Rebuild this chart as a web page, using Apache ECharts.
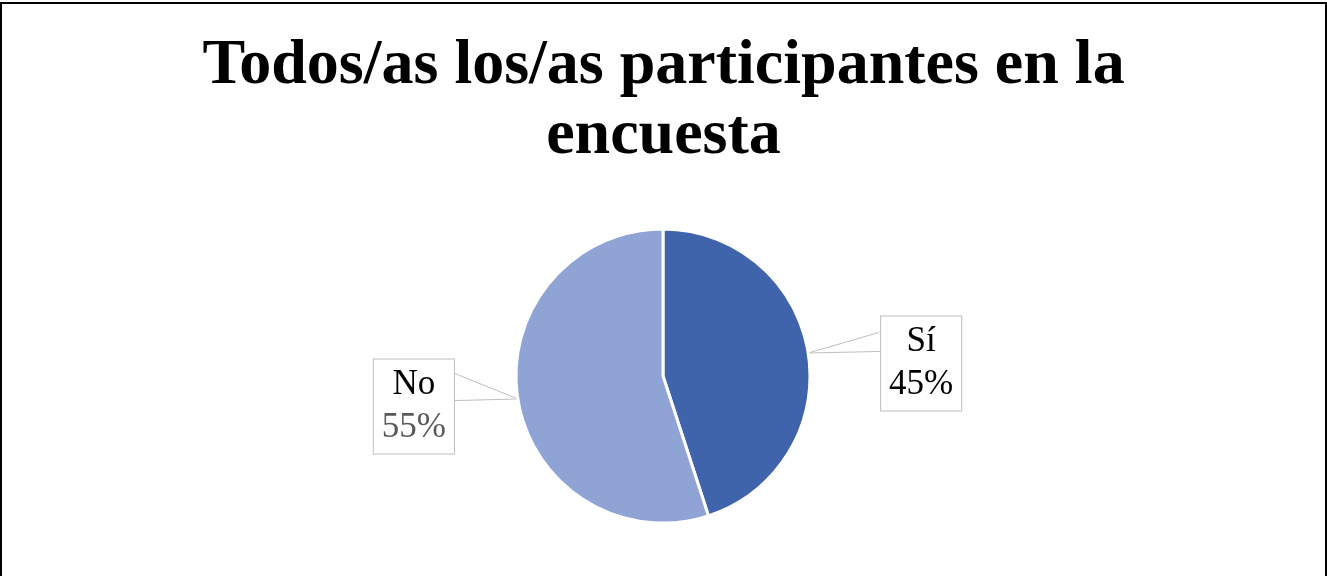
<!DOCTYPE html>
<html>
<head>
<meta charset="utf-8">
<script src="https://cdn.jsdelivr.net/npm/echarts@6/dist/echarts.min.js"></script>
<style>
html,body{margin:0;padding:0;background:#fff;}
#frame{position:absolute;left:0;top:2px;width:1327px;height:580px;border-left:2px solid #000;border-top:2px solid #000;border-right:2px solid #000;box-sizing:border-box;}
#chart{position:absolute;left:0;top:0;width:1327px;height:576px;}
</style>
</head>
<body>
<div id="chart"></div>
<div id="frame"></div>
<script>
const titleText = 'Todos/as los/as participantes en la\nencuesta';
const categories = ['Sí', 'No'];
const values = [45, 55];
const colors = ['#3F64AB', '#8FA4D4'];
const pctColors = ['#000000', '#595959'];
const labelShift = [[0, 12], [9, 6]];
const calloutShift = [[3, -19], [5, -27]];

const lineStyle = { color: '#bfbfbf', width: 1 };
const pieCenter = [663, 376];
const pieRadius = [0, 147];

const chart = echarts.init(document.getElementById('chart'));
chart.setOption({
  animation: false,
  backgroundColor: '#fff',
  title: {
    text: titleText,
    left: 'center',
    top: 26,
    textStyle: {
      fontFamily: 'Liberation Serif',
      fontWeight: 'bold',
      fontSize: 64,
      lineHeight: 70,
      color: '#000'
    }
  },
  series: [{
    // helper pie underneath: draws the upper edge of each callout wedge
    type: 'pie',
    silent: true,
    z: 1,
    center: pieCenter,
    radius: pieRadius,
    startAngle: 90,
    clockwise: true,
    itemStyle: { color: '#ffffff', borderWidth: 0 },
    label: {
      show: true,
      position: 'outside',
      formatter: '.',
      color: '#ffffff',
      fontSize: 2,
      lineHeight: 2,
      padding: 0
    },
    labelLine: { show: true, length: 10, length2: 58, lineStyle: lineStyle },
    labelLayout: function (p) {
      const s = calloutShift[p.dataIndex];
      const pts = p.labelLinePoints;
      if (!pts || pts.length < 2) return {};
      const end = pts[pts.length - 1];
      return { labelLinePoints: [pts[0], [end[0] + s[0], end[1] + s[1]]] };
    },
    data: categories.map((c, i) => ({ name: c, value: values[i] }))
  }, {
    type: 'pie',
    z: 2,
    center: pieCenter,
    radius: pieRadius,
    startAngle: 90,
    clockwise: true,
    itemStyle: { borderColor: '#fff', borderWidth: 3 },
    label: {
      show: true,
      position: 'outside',
      backgroundColor: '#fff',
      borderColor: '#bfbfbf',
      borderWidth: 1,
      padding: [4, 8, 4, 8],
      fontFamily: 'Liberation Serif',
      fontSize: 35,
      lineHeight: 43,
      align: 'center'
    },
    labelLine: { show: true, length: 10, length2: 58, lineStyle: lineStyle },
    labelLayout: function (p) {
      const s = labelShift[p.dataIndex];
      const out = { dx: s[0], dy: s[1] };
      const pts = p.labelLinePoints;
      const r = p.labelRect;
      if (pts && pts.length >= 2 && r) {
        const end = pts[pts.length - 1];
        const onRight = end[0] > pts[0][0];
        const x = onRight ? r.x + s[0] : r.x + r.width + s[0];
        out.labelLinePoints = [pts[0], [x, end[1]]];
      }
      return out;
    },
    data: categories.map((c, i) => ({
      name: c,
      value: values[i],
      itemStyle: { color: colors[i] },
      label: {
        formatter: '{n|{b}}\n{p|{d}%}',
        rich: {
          n: { fontFamily: 'Liberation Serif', fontSize: 35, lineHeight: 43, color: '#000', align: 'center' },
          p: { fontFamily: 'Liberation Serif', fontSize: 35, lineHeight: 43, color: pctColors[i], align: 'center' }
        }
      }
    }))
  }]
});
</script>
</body>
</html>
